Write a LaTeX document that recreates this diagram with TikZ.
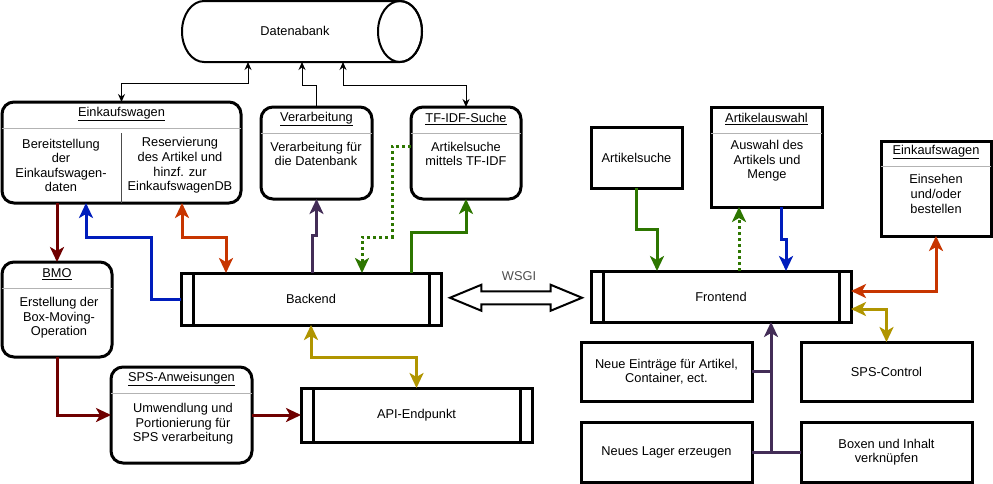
\documentclass[tikz,border=0pt]{standalone}
\usepackage{fontspec}
\setmainfont{Liberation Sans}
\usepackage{xcolor}
\usetikzlibrary{arrows.meta,shapes.arrows,calc,positioning}

\definecolor{cDarkred}{HTML}{6F0000}
\definecolor{cBlue}{HTML}{001DBC}
\definecolor{cOrange}{HTML}{C73500}
\definecolor{cPurple}{HTML}{432D57}
\definecolor{cGreen}{HTML}{2D7600}
\definecolor{cGold}{HTML}{B09500}
\definecolor{cSep}{HTML}{B3B3B3}
\definecolor{cLabel}{HTML}{4D4D4D}

\tikzset{
  roundbox/.style={draw, line width=3pt, rounded corners=12pt, outer sep=0pt, inner sep=0pt},
  plainbox/.style={draw, line width=3pt, outer sep=0pt, inner sep=0pt, align=center},
  procbox/.style={draw, line width=3pt, outer sep=0pt, inner sep=0pt},
  sepline/.style={cSep, line width=1pt},
  titletext/.style={inner sep=0pt},
  bodytext/.style={align=center, inner sep=0pt},
  dbarrow/.style={line width=1pt, >={Stealth[length=8pt,width=7pt]}},
  colarrow/.style={line width=3pt, >={Stealth[length=15pt,width=14pt,inset=4pt]}},
  dotline/.style={dash pattern=on 3pt off 3pt}
}

\begin{document}
\begin{tikzpicture}[x=1pt, y=-1pt, font=\fontsize{12.8}{14.6}\selectfont]
\useasboundingbox (0,0) rectangle (993,483);

% Datenbank
\node[minimum width=240pt, minimum height=61pt, outer sep=0pt](db) at (302,31.5) {};
\draw[line width=2pt] ($(db.north west)+(22,0)$) -- ($(db.north east)+(-22,0)$)
  arc[start angle=270, end angle=450, x radius=22, y radius=30.5]
  -- ($(db.south west)+(22,0)$)
  arc[start angle=90, end angle=270, x radius=22, y radius=30.5] -- cycle;
\draw[line width=2pt] ($(db.east)+(-22,0)$) ellipse[x radius=22, y radius=30.5];
\node(dbtext) at ($(db.center)+(-7,-1)$) {Datenabank};
\coordinate(dbA) at (248,62);
\coordinate(dbB) at (302,62);
\coordinate(dbC) at (343,62);

% Backend-Seite
\coordinate(O1) at (2,102);
\node[below right=0cm of O1, roundbox, minimum width=239pt, minimum height=101pt](ekw1) {};
\node[titletext] at ($(ekw1.north)+(0,12)$) {\underline{Einkaufswagen}};
\draw[sepline] ($(ekw1.north west)+(0,26)$) -- ($(ekw1.north east)+(0,26)$);
\draw[line width=1pt, black!70] ($(ekw1.north)+(0,31)$) -- (ekw1.south);
\node[bodytext] at (61,165.5) {Bereitstellung\\der\\Einkaufswagen-\\daten};
\node[bodytext] at (180,165.5) {Reservierung\\des Artikel und\\hinzf. zur\\EinkaufswagenDB};

\coordinate(O1) at (261,107);
\node[below right=0cm of O1, roundbox, minimum width=111pt, minimum height=92pt](ver1) {};
\node[titletext] at ($(ver1.north)+(0,12)$) {\underline{Verarbeitung}};
\draw[sepline] ($(ver1.north west)+(0,26)$) -- ($(ver1.north east)+(0,26)$);
\node[bodytext] at (316,154) {Verarbeitung für\\die Datenbank};

\coordinate(O1) at (411,107);
\node[below right=0cm of O1, roundbox, minimum width=110pt, minimum height=92pt](tfidf1) {};
\node[titletext] at ($(tfidf1.north)+(0,12)$) {\underline{TF-IDF-Suche}};
\draw[sepline] ($(tfidf1.north west)+(0,26)$) -- ($(tfidf1.north east)+(0,26)$);
\node[bodytext] at (466,154) {Artikelsuche\\mittels TF-IDF};

\coordinate(O1) at (2,262);
\node[below right=0cm of O1, roundbox, minimum width=110pt, minimum height=95pt](bmo1) {};
\node[titletext] at ($(bmo1.north)+(0,12)$) {\underline{BMO}};
\draw[sepline] ($(bmo1.north west)+(0,26)$) -- ($(bmo1.north east)+(0,26)$);
\node[bodytext] at (59,318) {Erstellung der\\Box-Moving-\\Operation};

\coordinate(O1) at (111,367);
\node[below right=0cm of O1, roundbox, minimum width=141pt, minimum height=96pt](sps1) {};
\node[titletext] at ($(sps1.north)+(0,12)$) {\underline{SPS-Anweisungen}};
\draw[sepline] ($(sps1.north west)+(0,26)$) -- ($(sps1.north east)+(0,26)$);
\node[bodytext] at (183,424) {Umwendlung und\\Portionierung für\\SPS verarbeitung};

\coordinate(O1) at (181,273);
\node[below right=0cm of O1, procbox, minimum width=260pt, minimum height=52pt](backend) {Backend};
\draw[line width=3pt] ($(backend.north west)+(12,0)$) -- ($(backend.south west)+(12,0)$);
\draw[line width=3pt] ($(backend.north east)+(-12,0)$) -- ($(backend.south east)+(-12,0)$);

\coordinate(O1) at (301,388);
\node[below right=0cm of O1, procbox, minimum width=231pt, minimum height=54pt](api) {API-Endpunkt};
\draw[line width=3pt] ($(api.north west)+(12,0)$) -- ($(api.south west)+(12,0)$);
\draw[line width=3pt] ($(api.north east)+(-12,0)$) -- ($(api.south east)+(-12,0)$);

% Frontend-Seite
\coordinate(O1) at (591,271);
\node[below right=0cm of O1, procbox, minimum width=260pt, minimum height=51pt](frontend) {Frontend};
\draw[line width=3pt] ($(frontend.north west)+(12,0)$) -- ($(frontend.south west)+(12,0)$);
\draw[line width=3pt] ($(frontend.north east)+(-12,0)$) -- ($(frontend.south east)+(-12,0)$);

\coordinate(O1) at (591,127);
\node[below right=0cm of O1, plainbox, minimum width=91pt, minimum height=61pt](suche) {Artikelsuche};

\coordinate(O1) at (711,107);
\node[below right=0cm of O1, plainbox, minimum width=111pt, minimum height=100pt](auswahl) {};
\node[titletext] at ($(auswahl.north)+(0,12)$) {\underline{Artikelauswahl}};
\draw[sepline] ($(auswahl.north west)+(0,26)$) -- ($(auswahl.north east)+(0,26)$);
\node[bodytext] at (767,161) {Auswahl des\\Artikels und\\Menge};

\coordinate(O1) at (881,141);
\node[below right=0cm of O1, plainbox, minimum width=110pt, minimum height=95pt](ekw2) {};
\node[titletext] at ($(ekw2.north)+(0,11)$) {\underline{Einkaufswagen}};
\draw[sepline] ($(ekw2.north west)+(0,25)$) -- ($(ekw2.north east)+(0,25)$);
\node[bodytext] at (936,194) {Einsehen\\und/oder\\bestellen};

\coordinate(O1) at (581,342);
\node[below right=0cm of O1, plainbox, minimum width=171pt, minimum height=59pt](neu) {Neue Einträge für Artikel,\\Container, ect.};
\coordinate(O1) at (801,342);
\node[below right=0cm of O1, plainbox, minimum width=171pt, minimum height=59pt](spsc) {SPS-Control};
\coordinate(O1) at (581,422);
\node[below right=0cm of O1, plainbox, minimum width=171pt, minimum height=60pt](lager) {Neues Lager erzeugen};
\coordinate(O1) at (801,422);
\node[below right=0cm of O1, plainbox, minimum width=171pt, minimum height=60pt](boxen) {Boxen und Inhalt\\verknüpfen};

% WSGI
\node[double arrow, draw, line width=2pt, minimum height=132pt, inner sep=5.5pt, double arrow head extend=6.5pt, double arrow tip angle=45](wsgi) at ($(backend.east)!0.5!(frontend.west)$) {};
\node[above=6pt of wsgi, xshift=3pt, text=cLabel](wsgilabel) {WSGI};

% Datenbank-Verbindungen
\draw[dbarrow, <->] (ekw1.north) -- ++(0,-19) -| (dbA);
\draw[dbarrow, ->] (ver1.north) -- ++(0,-22) -| (dbB);
\draw[dbarrow, <->] (tfidf1.north) -- ++(0,-22) -| (dbC);

\draw[colarrow, ->, cDarkred] (ekw1.south -| bmo1.north) -- (bmo1.north);
\draw[colarrow, ->, cDarkred] (bmo1.south) |- (sps1.west);
\draw[colarrow, ->, cDarkred] (sps1.east) -- (api.west);
\draw[colarrow, ->, cBlue] (backend.west) -- ++(-30,0) |- ($(ekw1.south west)+(84,34)$) -- ($(ekw1.south west)+(84,0)$);
\draw[colarrow, <->, cOrange] ($(ekw1.south west)+(180,0)$) -- ++(0,34) -| ($(backend.north west)+(45,0)$);
\draw[colarrow, ->, cPurple] ($(backend.north west)+(131,0)$) -- ++(0,-38) -| (ver1.south);
\draw[colarrow, ->, cGreen, dotline] ($(tfidf1.north west)+(0,39)$) -- ++(-19,0) |- ($(backend.north west)+(181,-36)$) -- ($(backend.north west)+(181,0)$);
\draw[colarrow, ->, cGreen] ($(backend.north west)+(230,0)$) -- ++(0,-41) -| (tfidf1.south);
\draw[colarrow, <->, cGold] (backend.south) -- ++(0,32) -| (api.north);

\draw[colarrow, ->, cGreen] (suche.south) -- ++(0,41) -| ($(frontend.north west)+(66,0)$);
\draw[colarrow, ->, cGreen, dotline] ($(frontend.north west)+(148,0)$) -- ($(auswahl.south west)+(28,0)$);
\draw[colarrow, ->, cBlue] ($(auswahl.south west)+(70,0)$) -- ++(0,32) -| ($(frontend.north west)+(195,0)$);
\draw[colarrow, <->, cOrange] ($(frontend.north east)+(0,20)$) -| (ekw2.south);
\draw[colarrow, <->, cGold] ($(frontend.north east)+(0,38)$) -| (spsc.north);
\draw[line width=3pt, cPurple] (lager.east) -- (boxen.west);
\draw[line width=3pt, cPurple] (neu.east) -- ++(19,0);
\draw[colarrow, ->, cPurple] ($(lager.east)+(19,0)$) -- ($(frontend.south west)+(180,0)$);
\end{tikzpicture}
\end{document}
